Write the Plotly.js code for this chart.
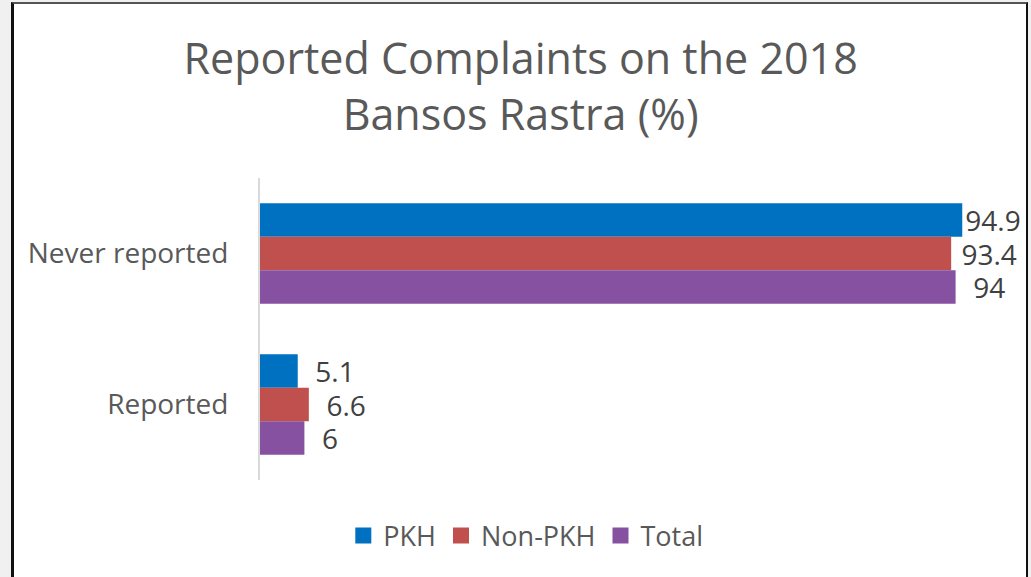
<!DOCTYPE html>
<html>
<head>
<meta charset="utf-8">
<script src="https://cdn.plot.ly/plotly-3.0.1.min.js"></script>
<style>
  html, body { margin: 0; padding: 0; background: #f0f0f0; overflow: hidden; }
  #frame { position: absolute; left: 11px; top: 2px; width: 1012px; height: 600px;
           background: #ffffff; border-left: 3px solid #111; border-top: 2px solid #555; border-right: 2px solid #111; }
  #chart { position: absolute; left: 0; top: 0; width: 1031px; height: 577px; }
</style>
</head>
<body>
<div id="frame"></div>
<div id="chart"></div>
<script>
const categories = ["Never reported", "Reported"];
const seriesNames = ["PKH", "Non-PKH", "Total"];
const pkh = [94.9, 5.1];
const nonPkh = [93.4, 6.6];
const total = [94, 6];
const colors = ["#0070C0", "#C0504D", "#8551A0"];

const values = [pkh, nonPkh, total];
const FONT = "Open Sans, Noto Sans, sans-serif";
const LABEL_SIZE = 28;

// Layout constants used to keep outside labels inside the frame (like Excel does)
const PLOT_LEFT = 260, PLOT_WIDTH = 740, X_MAX = 100, RIGHT_LIMIT = 1024;
function labelFor(v) {
  const s = String(v);
  const w = [...s].reduce((a, c) => a + (c === "." ? 0.27 : 0.57) * LABEL_SIZE, 0);
  const end = PLOT_LEFT + v * PLOT_WIDTH / X_MAX + 3;
  const nb = 0.26 * LABEL_SIZE;
  const spaces = Math.max(0, Math.min(2, Math.floor((RIGHT_LIMIT - end - w) / nb)));
  return "\u00A0".repeat(spaces) + s;
}

const barTraces = values.map((v, i) => ({
  type: "bar",
  orientation: "h",
  name: seriesNames[i],
  y: categories,
  x: v,
  marker: { color: colors[i] },
  text: v.map(labelFor),
  textposition: "outside",
  constraintext: "none",
  cliponaxis: false,
  textfont: { family: FONT, size: LABEL_SIZE, color: "#404040" },
  showlegend: false,
  hoverinfo: "x+name"
}));

// legend-only entries with larger square swatches
const legendTraces = seriesNames.map((n, i) => ({
  type: "scatter",
  mode: "markers",
  name: n,
  x: [null],
  y: [null],
  marker: { symbol: "square", size: 17, color: colors[i] },
  showlegend: true,
  hoverinfo: "skip"
}));

const layout = {
  width: 1031,
  height: 577,
  paper_bgcolor: "rgba(0,0,0,0)",
  plot_bgcolor: "rgba(0,0,0,0)",
  margin: { l: 260, r: 31, t: 178, b: 97 },
  title: {
    text: "Reported Complaints on the 2018<br>Bansos Rastra (%)",
    font: { family: FONT, size: 43, color: "#595959" },
    x: 0.505, xref: "container", xanchor: "center",
    y: 1 - 74 / 577, yref: "container", yanchor: "middle"
  },
  barmode: "group",
  bargap: 0.333,
  bargroupgap: 0,
  xaxis: {
    range: [0, X_MAX],
    showgrid: false,
    zeroline: false,
    showticklabels: false,
    showline: false,
    ticks: ""
  },
  yaxis: {
    type: "category",
    categoryorder: "array",
    categoryarray: categories,
    autorange: "reversed",
    showline: true,
    linecolor: "#d9d9d9",
    linewidth: 2,
    ticks: "",
    ticklabelstandoff: 24,
    tickfont: { family: FONT, size: 28, color: "#595959" },
    showgrid: false,
    zeroline: false
  },
  showlegend: true,
  legend: {
    orientation: "h",
    x: 0.51, xref: "container", xanchor: "center",
    y: 1 - 536 / 577, yref: "container", yanchor: "middle",
    font: { family: FONT, size: 27, color: "#595959" },
    traceorder: "normal",
    itemsizing: "trace"
  }
};

Plotly.newPlot("chart", barTraces.concat(legendTraces), layout, { displayModeBar: false, staticPlot: true });
</script>
</body>
</html>
